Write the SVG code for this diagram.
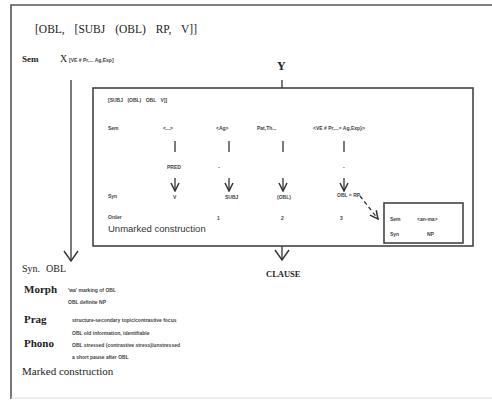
<svg xmlns="http://www.w3.org/2000/svg" width="492" height="402" viewBox="0 0 492 402">
<defs>
<marker id="vh" viewBox="0 0 12 16" refX="11" refY="8" markerWidth="12" markerHeight="16" markerUnits="userSpaceOnUse" orient="auto">
<path d="M1,1 L11,8 L1,15" fill="none" stroke="#333" stroke-width="1.4"/>
</marker>
<marker id="vs" viewBox="0 0 10 10" refX="9" refY="5" markerWidth="10" markerHeight="10" markerUnits="userSpaceOnUse" orient="auto">
<path d="M1,1 L9,5 L1,9" fill="none" stroke="#333" stroke-width="1.5"/>
</marker>
</defs>
<style>
.sf{font-family:"Liberation Serif","Times New Roman",serif;fill:#222}
.ss{font-family:"Liberation Sans",Arial,sans-serif;fill:#333}
.tiny{font-family:"Liberation Sans",Arial,sans-serif;font-size:5px;font-weight:bold;fill:#444}
.b{font-weight:bold}
.ln{stroke:#333;stroke-width:1.3;fill:none}
.box{fill:#fff;stroke:#444;stroke-width:1.6}
</style>
<rect width="492" height="402" fill="#fff"/>
<g id="frame">
<path d="M11,399 L11,5 L492,5" fill="none" stroke="#555" stroke-width="1.6"/>
<line x1="11" y1="398" x2="492" y2="398" stroke="#ddd" stroke-width="1"/>
</g>
<g id="title"><text class="sf" x="35" y="33" font-size="11.5" word-spacing="7">[OBL,  [SUBJ  (OBL)  RP,  V]]</text></g>
<g id="x-node">
<text class="sf b" x="22" y="62" font-size="9">Sem</text>
<text class="sf" x="60" y="62" font-size="10">X</text>
<text class="tiny" x="69" y="62">[VE # Pr,... Ag,Exp]</text>
</g>
<g id="y-node"><text class="sf b" x="277" y="70" font-size="12">Y</text></g>
<g id="unmarked">
<rect class="box" x="93" y="88" width="380" height="158"/>
<text class="tiny" x="108" y="102" word-spacing="3">[SUBJ  (OBL)  OBL  V]]</text>
<text class="tiny" x="108" y="130">Sem</text>
<text class="tiny" x="163" y="130">&lt;...&gt;</text>
<text class="tiny" x="216" y="130">&lt;Ag&gt;</text>
<text class="tiny" x="257" y="130">Pat,Th...</text>
<text class="tiny" x="313" y="130">&lt;VE # Pr,...= Ag,Exp}&gt;</text>
<text class="tiny" x="167" y="169">PRED</text>
<text class="tiny" x="218" y="169">-</text>
<text class="tiny" x="343" y="169">-</text>
<text class="tiny" x="108" y="198">Syn</text>
<text class="tiny" x="173" y="199">V</text>
<text class="tiny" x="225" y="199">SUBJ</text>
<text class="tiny" x="277" y="199">(OBL)</text>
<text class="tiny" x="337" y="197">OBL = RP</text>
<text class="tiny" x="108" y="219">Order</text>
<text class="tiny" x="217" y="220">1</text>
<text class="tiny" x="281" y="220">2</text>
<text class="tiny" x="340" y="220">3</text>
<text class="ss" x="108" y="232" font-size="9.5">Unmarked construction</text>
</g>
<g id="np-box">
<rect class="box" x="384" y="203" width="79" height="40"/>
<text class="tiny" x="390" y="221">Sem</text>
<text class="tiny" x="417" y="221">&lt;an-ma&gt;</text>
<text class="tiny" x="390" y="236">Syn</text>
<text class="tiny" x="427" y="236">NP</text>
</g>
<g id="clause"><text class="sf b" x="266" y="277" font-size="8.5">CLAUSE</text></g>
<g id="marked">
<text class="sf" x="22" y="272" font-size="10">Syn.</text>
<text class="sf" x="46" y="272" font-size="10">OBL</text>
<text class="sf b" x="24" y="293" font-size="11">Morph</text>
<text class="tiny" x="68" y="292">'wa' marking of OBL</text>
<text class="tiny" x="68" y="304">OBL definite NP</text>
<text class="sf b" x="24" y="323" font-size="11">Prag</text>
<text class="tiny" x="72" y="322">structure-secondary topic/contrastive focus</text>
<text class="tiny" x="72" y="335">OBL old information, identifiable</text>
<text class="sf b" x="24" y="347" font-size="11">Phono</text>
<text class="tiny" x="72" y="347">OBL stressed (contrastive stress)/unstressed</text>
<text class="tiny" x="72" y="359">a short pause after OBL</text>
<text class="sf" x="22" y="375" font-size="11">Marked construction</text>
</g>
<g id="connectors">
<line class="ln" x1="71" y1="80" x2="71" y2="261" marker-end="url(#vh)"/>
<line class="ln" x1="282" y1="80" x2="282" y2="88"/>
<line class="ln" x1="282" y1="246" x2="282" y2="260" marker-end="url(#vh)"/>
<line class="ln" x1="175" y1="141" x2="175" y2="152"/>
<line class="ln" x1="229" y1="141" x2="229" y2="152"/>
<line class="ln" x1="283" y1="141" x2="283" y2="152"/>
<line class="ln" x1="344" y1="141" x2="344" y2="152"/>
<line class="ln" x1="175" y1="178" x2="175" y2="191" marker-end="url(#vs)"/>
<line class="ln" x1="229" y1="178" x2="229" y2="191" marker-end="url(#vs)"/>
<line class="ln" x1="283" y1="178" x2="283" y2="191" marker-end="url(#vs)"/>
<line class="ln" x1="344" y1="178" x2="344" y2="191" marker-end="url(#vs)"/>
<line class="ln" x1="360" y1="196" x2="378" y2="219" stroke-width="1.6" stroke-dasharray="4,3" marker-end="url(#vs)"/>
</g>
</svg>
